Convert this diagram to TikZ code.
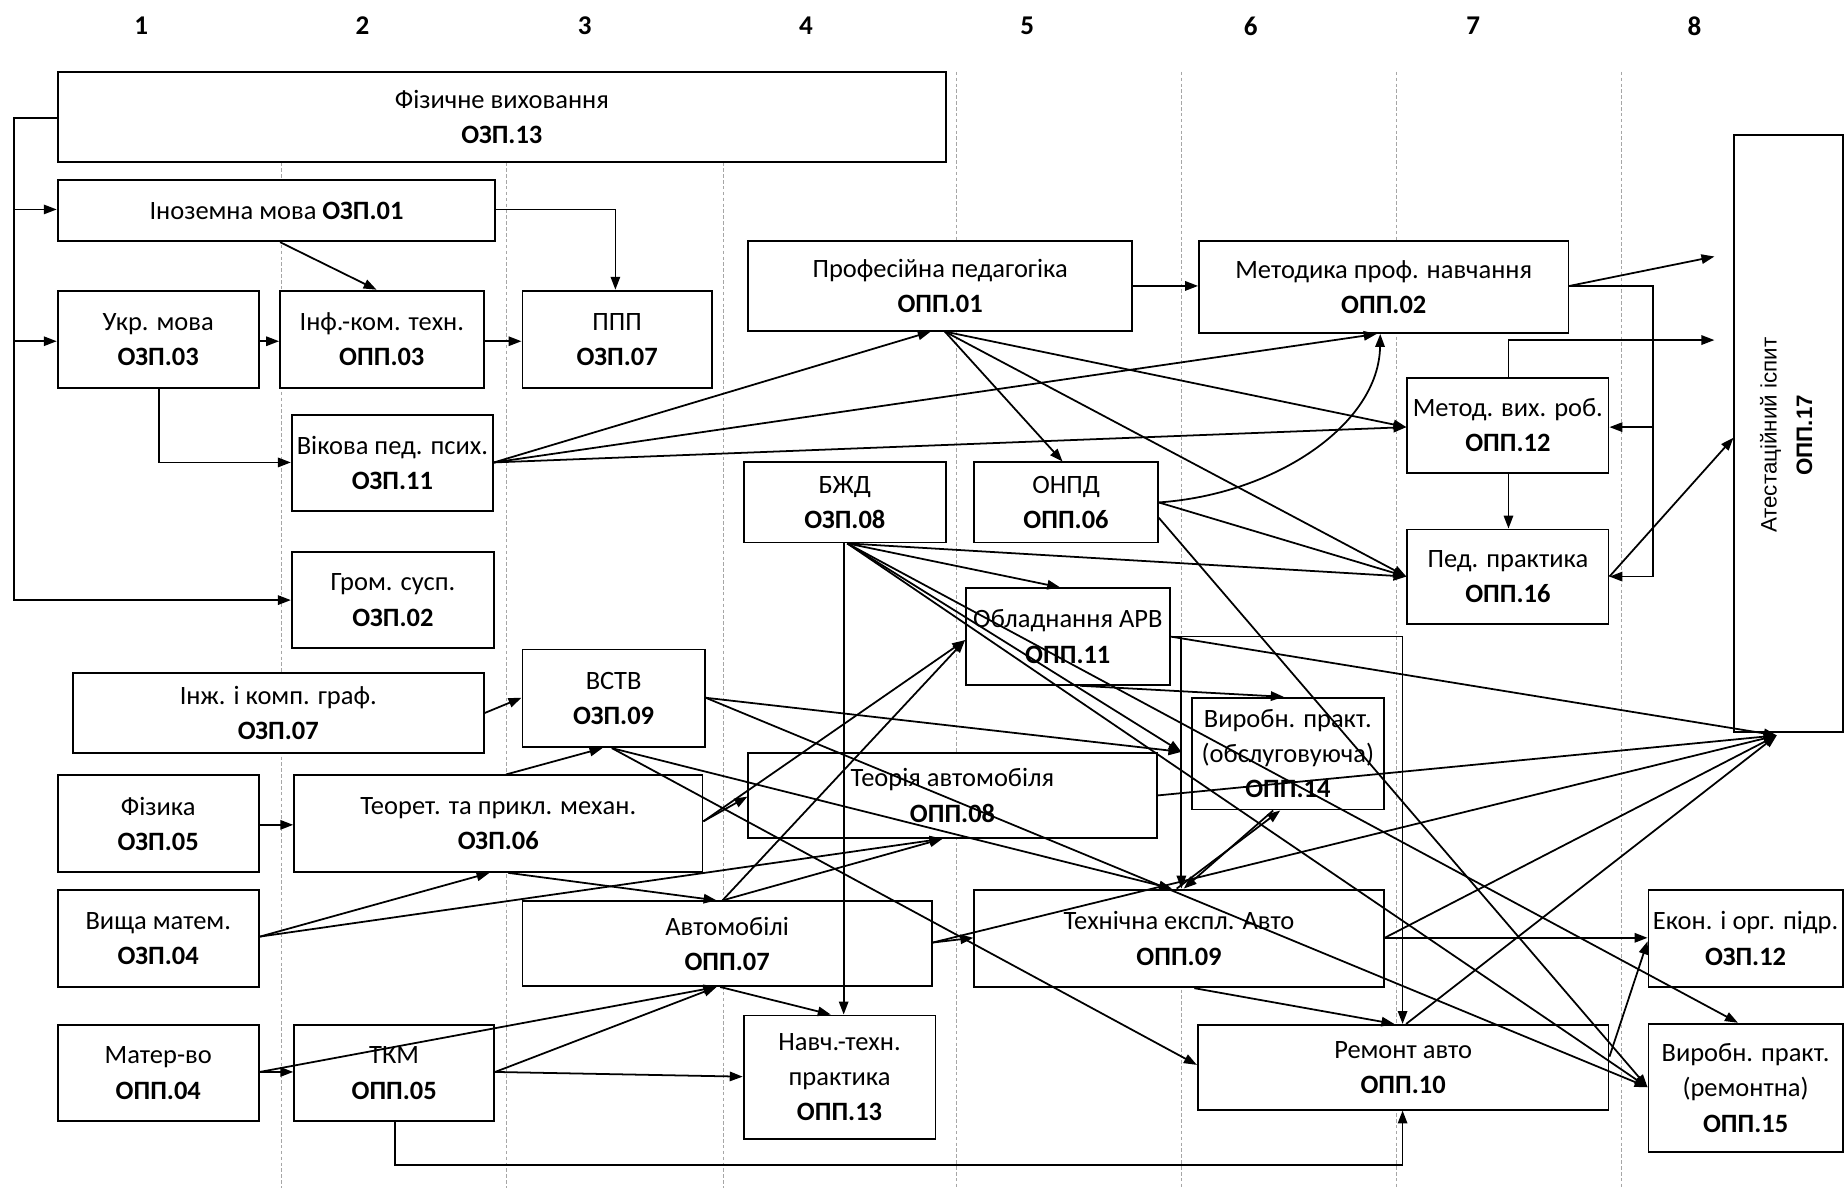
\documentclass[tikz,border=0pt]{standalone}
\usepackage{fontspec}
\setmainfont{Carlito}
\newfontfamily\atfont{Liberation Sans}
\usetikzlibrary{arrows.meta}
\newcommand\mybox[6]{\node[box,minimum width={(#4-#2)*1pt},minimum height={(#5-#3)*1pt}] (#1) at ({(#2+#4)/2},{(#3+#5)/2}) {#6};}
\begin{document}
\begin{tikzpicture}[x=1pt,y=-1pt,
  box/.style={draw,fill=white,line width=1.6pt,inner sep=0pt,align=center,font=\fontsize{22.5}{30}\selectfont},
  arr/.style={line width=1.5pt,-{Triangle[length=11pt,width=8pt]}},
  ln/.style={line width=1.5pt},
  colline/.style={gray!70,line width=0.6pt,dash pattern=on 3pt off 2pt},
  colnum/.style={font=\fontsize{23}{26}\selectfont\bfseries}]
\fill[white] (0,0) rectangle (1568,1010);
\useasboundingbox (0,0) rectangle (1568,1010);
% column numbers
\foreach \i/\x in {1/120,2/308,3/497,4/685,5/873,6/1063,7/1252,8/1440}
  \node[colnum] (col\i) at (\x,22) {\i};
% dashed column lines
\foreach \x in {239,430,615} \draw[colline] (\x,138) -- (\x,1010);
\foreach \x in {813,1004,1187,1378} \draw[colline] (\x,61) -- (\x,1010);
% boxes
\mybox{fiz}{49}{61}{804}{138}{Фізичне виховання\\\textbf{ОЗП.13}}
\mybox{inoz}{49}{153}{421}{205}{Іноземна мова \textbf{ОЗП.01}}
\mybox{ukr}{49}{247}{220}{330}{Укр. мова\\\textbf{ОЗП.03}}
\mybox{inf}{238}{247}{411}{330}{Інф.-ком. техн.\\\textbf{ОПП.03}}
\mybox{ppp}{444}{247}{605}{330}{ППП\\\textbf{ОЗП.07}}
\mybox{vik}{248}{353}{419}{434}{Вікова пед. псих.\\\textbf{ОЗП.11}}
\mybox{grom}{248}{469}{420}{551}{Гром. сусп.\\\textbf{ОЗП.02}}
\mybox{inzh}{62}{572}{411}{640}{Інж. і комп. граф.\\\textbf{ОЗП.07}}
\mybox{vstv}{444}{552}{599}{635}{ВСТВ\\\textbf{ОЗП.09}}
\mybox{fizyka}{49}{659}{220}{741}{Фізика\\\textbf{ОЗП.05}}
\mybox{teor}{250}{659}{597}{741}{Теорет. та прикл. механ.\\\textbf{ОЗП.06}}
\mybox{vyshcha}{49}{756}{220}{839}{Вища матем.\\\textbf{ОЗП.04}}
\mybox{avto}{444}{766}{792}{838}{Автомобілі\\\textbf{ОПП.07}}
\mybox{mater}{49}{871}{220}{953}{Матер-во\\\textbf{ОПП.04}}
\mybox{tkm}{250}{871}{420}{953}{ТКМ\\\textbf{ОПП.05}}
\mybox{navch}{632}{863}{795}{968}{Навч.-техн.\\практика\\\textbf{ОПП.13}}
\mybox{prof}{636}{205}{962}{281}{Професійна педагогіка\\\textbf{ОПП.01}}
\mybox{metod}{1019}{205}{1333}{283}{Методика проф. навчання\\\textbf{ОПП.02}}
\mybox{bzhd}{632}{393}{804}{461}{БЖД\\\textbf{ОЗП.08}}
\mybox{onpd}{828}{393}{984}{461}{ОНПД\\\textbf{ОПП.06}}
\mybox{mvr}{1196}{321}{1367}{402}{Метод. вих. роб.\\\textbf{ОПП.12}}
\mybox{pedp}{1196}{450}{1367}{530}{Пед. практика\\\textbf{ОПП.16}}
\mybox{obl}{821}{500}{994}{582}{Обладнання АРВ\\\textbf{ОПП.11}}
\mybox{vpa}{1013}{593}{1176}{688}{Виробн. практ.\\(обслуговуюча)\\\textbf{ОПП.14}}
\mybox{teoria}{636}{640}{983}{712}{Теорія автомобіля\\\textbf{ОПП.08}}
\mybox{tekh}{828}{756}{1176}{839}{Технічна експл. Авто\\\textbf{ОПП.09}}
\mybox{remont}{1018}{871}{1367}{943}{Ремонт авто\\\textbf{ОПП.10}}
\mybox{ekon}{1401}{756}{1566}{839}{Екон. і орг. підр.\\\textbf{ОЗП.12}}
\mybox{vpb}{1401}{870}{1566}{979}{Виробн. практ.\\(ремонтна)\\\textbf{ОПП.15}}
\mybox{atest}{1474}{115}{1566}{622}{}
\node[rotate=90,align=center,inner sep=0pt,font=\atfont\fontsize{19}{30}\selectfont] (atestlbl) at (1518,370) {Атестаційний іспит\\\textbf{ОПП.17}};
% free ends
\coordinate (conv) at (1510,625);
\coordinate (aone) at (1457,218);
\coordinate (atwo) at (1457,289);
\coordinate (jv) at (1004,639);
% left bus
\draw[arr] (fiz.west |- 0,100) -- (12,100) -- (12,510) -- (grom.west |- 0,510);
\draw[arr] (12,178) -- (inoz.west |- 0,178);
\draw[arr] (12,290) -- (ukr.west |- 0,290);
% top-left
\draw[arr] (238,0 |- inoz.south) -- (320,0 |- inf.north);
\draw[arr] (inoz.east |- 0,178) -| (523,0 |- ppp.north);
\draw[arr] (ukr.east |- 0,290) -- (inf.west |- 0,290);
\draw[arr] (inf.east |- 0,290) -- (ppp.west |- 0,290);
\draw[arr] (135,0 |- ukr.south) |- (vik.west |- 0,393);
% Vikova
\draw[arr] (vik.east |- 0,393) -- (791,0 |- prof.south);
\draw[arr] (vik.east |- 0,393) -- (1170,0 |- metod.south);
\draw[arr] (vik.east |- 0,393) -- (mvr.west |- 0,363);
% Prof ped
\draw[arr] (prof.east |- 0,243) -- (metod.west |- 0,243);
\draw[arr] (803,0 |- prof.south) -- (mvr.west |- 0,363);
\draw[arr] (803,0 |- prof.south) -- (903,0 |- onpd.north);
\draw[arr] (803,0 |- prof.south) -- (pedp.west |- 0,490);
% Metodyka
\draw[arr] (metod.east |- 0,243) -- (aone);
\draw[ln] (metod.east |- 0,243) -- (1405,243) -- (1405,490);
\draw[arr] (1405,363) -- (mvr.east |- 0,363);
\draw[arr] (1405,490) -- (pedp.east |- 0,490);
\draw[arr] (1282,0 |- mvr.north) |- (atwo);
\draw[arr] (1282,0 |- mvr.south) -- (1282,0 |- pedp.north);
\draw[arr] (pedp.east |- 0,490) -- (atest.west |- 0,372);
% ONPD
\draw[arr] (onpd.east |- 0,427) .. controls (1085,420) and (1172,360) .. (1173,0 |- metod.south);
\draw[arr] (onpd.east |- 0,427) -- (pedp.west |- 0,490);
\draw[arr] (onpd.east |- 0,440) -- (vpb.west |- 0,924);
% BZhD
\draw[arr] (717,0 |- bzhd.south) -- (717,0 |- navch.north);
\draw[arr] (720,0 |- bzhd.south) -- (pedp.west |- 0,490);
\draw[arr] (720,0 |- bzhd.south) -- (901,0 |- obl.north);
\draw[arr] (720,0 |- bzhd.south) -- (jv);
\draw[arr] (720,0 |- bzhd.south) -- (1477,0 |- vpb.north);
\draw[arr] (720,0 |- bzhd.south) -- (vpb.west |- 0,924);
% Obladnannia
\draw[arr] (obl.east |- 0,541) -- (1192,541) -- (1192,0 |- remont.north);
\draw[arr] (1004,541) -- (1004,0 |- tekh.north);
\draw[arr] (918,0 |- obl.south) -- (1091,0 |- vpa.north);
\draw[arr] (obl.east |- 0,541) -- (conv);
% VSTV
\draw[arr] (inzh.east |- 0,606) -- (vstv.west |- 0,593);
\draw[arr] (430,0 |- teor.north) -- (512,0 |- vstv.south);
\draw[arr] (520,0 |- vstv.south) -- (996,0 |- tekh.north);
\draw[arr] (520,0 |- vstv.south) -- (remont.west |- 0,905);
\draw[arr] (vstv.east |- 0,593) -- (jv);
\draw[arr] (vstv.east |- 0,593) -- (vpb.west |- 0,924);
% Teoret
\draw[arr] (fizyka.east |- 0,701) -- (teor.west |- 0,701);
\draw[arr] (teor.east |- 0,698) -- (teoria.west |- 0,677);
\draw[arr] (teor.east |- 0,698) -- (obl.west |- 0,544);
\draw[arr] (432,0 |- teor.south) -- (609,0 |- avto.north);
% Vyshcha
\draw[arr] (vyshcha.east |- 0,796) -- (416,0 |- teor.south);
\draw[arr] (vyshcha.east |- 0,796) -- (801,0 |- teoria.south);
% Avtomobili
\draw[arr] (614,0 |- avto.north) -- (obl.west |- 0,544);
\draw[arr] (614,0 |- avto.north) -- (801,0 |- teoria.south);
\draw[arr] (avto.east |- 0,801) -- (tekh.west |- 0,797);
\draw[arr] (avto.east |- 0,801) -- (conv);
\draw[arr] (612,0 |- avto.south) -- (706,0 |- navch.north);
% Mater / TKM
\draw[arr] (mater.east |- 0,911) -- (tkm.west |- 0,911);
\draw[arr] (mater.east |- 0,911) -- (609,0 |- avto.south);
\draw[arr] (tkm.east |- 0,911) -- (609,0 |- avto.south);
\draw[arr] (tkm.east |- 0,911) -- (navch.west |- 0,915);
\draw[arr] (336,0 |- tkm.south) -- (336,990) -- (1192,990) -- (1192,0 |- remont.south);
% Teoria
\draw[arr] (teoria.east |- 0,676) -- (conv);
% Tekhnichna
\draw[arr] (1000,0 |- tekh.north) -- (1088,0 |- vpa.south);
\draw[arr] (1082,0 |- vpa.south) -- (1006,0 |- tekh.north);
\draw[arr] (tekh.east |- 0,797) -- (ekon.west |- 0,797);
\draw[arr] (tekh.east |- 0,797) -- (conv);
\draw[arr] (1015,0 |- tekh.south) -- (1185,0 |- remont.north);
% Remont
\draw[arr] (1195,0 |- remont.north) -- (conv);
\draw[arr] (remont.east |- 0,898) -- (ekon.west |- 0,800);
\end{tikzpicture}
\end{document}
